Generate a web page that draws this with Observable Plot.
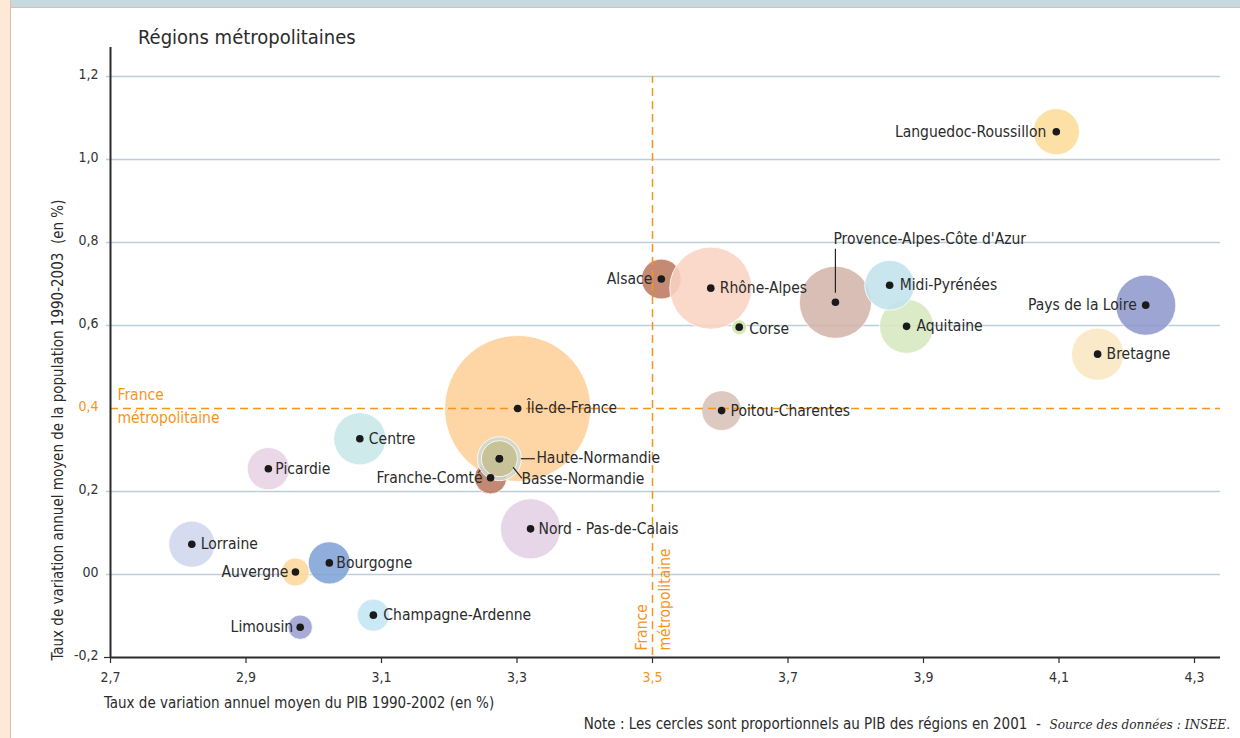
<!DOCTYPE html>
<html><head><meta charset="utf-8">
<script src="https://cdn.jsdelivr.net/npm/d3@7"></script>
<script src="https://cdn.jsdelivr.net/npm/@observablehq/plot@0.6"></script>
<style>
body{margin:0;background:#fff;width:1240px;height:738px;overflow:hidden;position:relative;font-family:"DejaVu Sans Condensed","DejaVu Sans",sans-serif;font-stretch:condensed;color:#2b2b2b}
#strip{position:absolute;left:0;top:0;width:10px;height:738px;background:#fde9d6;border-right:1px solid #e2b9ac}
#bar{position:absolute;left:11px;top:0;right:0;height:7px;background:#c8d8df;border-bottom:1px solid #e6b8ae}
#title{position:absolute;left:138px;top:25px;font-size:20px;white-space:nowrap}
#chart{position:absolute;left:0;top:0}
#xtitle{position:absolute;left:104px;top:694px;font-size:15px;white-space:nowrap}
#note{position:absolute;right:10px;top:715px;font-size:15px;white-space:nowrap}
#note i{font-family:"DejaVu Serif",serif;font-size:13.5px}
</style></head>
<body>
<div id="strip"></div><div id="bar"></div>
<div id="title">Régions métropolitaines</div>
<div id="chart"></div>
<div id="xtitle">Taux de variation annuel moyen du PIB 1990-2002 (en %)</div>
<div id="note">Note : Les cercles sont proportionnels au PIB des régions en 2001 &nbsp;- &nbsp;<i>Source des données : INSEE.</i></div>
<script>
// ---- data ----
const regions = ["Île-de-France","Alsace","Rhône-Alpes","Corse","Provence-Alpes-Côte d'Azur","Aquitaine","Midi-Pyrénées","Languedoc-Roussillon","Bretagne","Pays de la Loire","Poitou-Charentes","Centre","Picardie","Franche-Comté","Haute-Normandie","Basse-Normandie","Nord - Pas-de-Calais","Lorraine","Auvergne","Bourgogne","Champagne-Ardenne","Limousin"];
const gdpGrowth = [3.301,3.513,3.586,3.628,3.770,3.875,3.850,4.096,4.157,4.228,3.602,3.068,2.933,3.261,3.274,3.274,3.320,2.820,2.973,3.023,3.088,2.980];
const popGrowth = [0.400,0.712,0.690,0.596,0.656,0.598,0.697,1.067,0.531,0.649,0.395,0.327,0.255,0.233,0.279,0.279,0.110,0.073,0.006,0.028,-0.098,-0.127];
const gdp2001 = [430,32,136,4.5,105,59,50,43,55,73,32,55,36,21,39,26,73,43,16,36,21,12];
const regionColors = ["#fecf99","#bd7a60","#f9d3c3","#cfe4aa","#d3b5ab","#d7e8bf","#c2e3ed","#fddc98","#fbe7c2","#8f99cc","#dac2b7","#c8e7e7","#e7d1e5","#b97a62","#cfd9d0","#c6be92","#e4d0e5","#cfd7ed","#fdd79c","#7fa3d6","#c3e5f5","#9c9fd0"];
const yTicks = [-0.2,0,0.2,0.4,0.6,0.8,1.0,1.2];
const yTickLabels = ["-0,2","00","0,2","0,4","0,6","0,8","1,0","1,2"];
const xTicks = [2.7,2.9,3.1,3.3,3.5,3.7,3.9,4.1,4.3];
const xTickLabels = ["2,7","2,9","3,1","3,3","3,5","3,7","3,9","4,1","4,3"];
const franceGdpGrowth = 3.5;
const francePopGrowth = 0.4;
const franceLabel = "France\nmétropolitaine";

// ---- label placement (style) ----
const labelPlacement = {
  "Île-de-France":["start",9,0],
  "Alsace":["end",-9,0],
  "Rhône-Alpes":["start",9,0],
  "Corse":["start",10,2],
  "Provence-Alpes-Côte d'Azur":["start",-2,-63],
  "Aquitaine":["start",10,0],
  "Midi-Pyrénées":["start",10,0],
  "Languedoc-Roussillon":["end",-10,0],
  "Bretagne":["start",9,0],
  "Pays de la Loire":["end",-9,0],
  "Poitou-Charentes":["start",9,0],
  "Centre":["start",9,0],
  "Picardie":["start",7,0],
  "Franche-Comté":["end",-8,0],
  "Haute-Normandie":["start",37,-1],
  "Basse-Normandie":["start",22,20],
  "Nord - Pas-de-Calais":["start",8,0],
  "Lorraine":["start",9,0],
  "Auvergne":["end",-7,0],
  "Bourgogne":["start",7,0],
  "Champagne-Ardenne":["start",10,0],
  "Limousin":["end",-7,0]
};

const data = regions.map((name,i)=>({name, x:gdpGrowth[i], y:popGrowth[i], gdp:gdp2001[i], color:regionColors[i]}));
const orange = "#f7941d";
const ink = "#2b2b2b";
const byName = n => data.filter(d=>d.name===n);
const line = {draw(context,l){context.moveTo(0,0);context.lineTo(0,-l);}};

const labelMarks = data.map(d=>{
  const [anchor,dx,dy] = labelPlacement[d.name];
  return Plot.text([d],{x:"x",y:"y",text:"name",textAnchor:anchor,dx,dy,fill:ink,fontSize:15.5});
});

const chart = Plot.plot({
  width:1240, height:738,
  marginLeft:110, marginRight:20, marginTop:47, marginBottom:81,
  x:{domain:[2.7,4.3], range:[110,1194], axis:null},
  y:{domain:[-0.2,1.2], range:[657,76], axis:null},
  r:{type:"sqrt", domain:[0,430], range:[0,73]},
  color:{type:"identity"},
  style:{fontFamily:'"DejaVu Sans Condensed","DejaVu Sans",sans-serif', fontSize:"13px", background:"transparent", overflow:"visible"},
  marks:[
    Plot.ruleY(yTicks.filter(t=>t!==francePopGrowth && t!==-0.2),{y:d=>d, stroke:"#bccfd9", strokeWidth:1.5, insetLeft:-4}),
    Plot.dot(data,{x:"x",y:"y",r:"gdp",fill:"color",fillOpacity:0.88,stroke:"#fff",strokeOpacity:0.8,strokeWidth:1,sort:null}),
    Plot.ruleY([francePopGrowth],{y:d=>d, stroke:orange, strokeWidth:1.5, strokeDasharray:"8,5"}),
    Plot.ruleX([franceGdpGrowth],{x:d=>d, y1:-0.2, y2:1.2, insetTop:-2, stroke:orange, strokeWidth:1.5, strokeDasharray:"8,5"}),
    // axes
    Plot.ruleX([2.7],{x:d=>d, stroke:"#2b2b2b", strokeWidth:2}),
    Plot.ruleY([-0.2],{y:d=>d, stroke:"#2b2b2b", strokeWidth:2}),
    Plot.ruleX(xTicks,{x:d=>d, y1:-0.2, y2:-0.2, insetBottom:-6, stroke:"#2b2b2b", strokeWidth:1.2}),
    Plot.ruleY([-0.2],{y:d=>d, x1:2.7, x2:2.7, insetLeft:-6, stroke:"#2b2b2b", strokeWidth:1.2}),
    Plot.text(xTicks.filter(t=>t!==franceGdpGrowth),{x:d=>d, y:-0.2, dy:20, text:d=>xTickLabels[xTicks.indexOf(d)], fill:"#333", fontSize:14}),
    Plot.text([franceGdpGrowth],{x:d=>d, y:-0.2, dy:20, text:d=>xTickLabels[xTicks.indexOf(d)], fill:orange, fontSize:14}),
    Plot.text(yTicks.filter(t=>t!==francePopGrowth),{x:2.7, y:d=>d, dx:-12, dy:-2, textAnchor:"end", text:d=>yTickLabels[yTicks.indexOf(d)], fill:"#333", fontSize:14}),
    Plot.text([francePopGrowth],{x:2.7, y:d=>d, dx:-12, dy:-2, textAnchor:"end", text:d=>yTickLabels[yTicks.indexOf(d)], fill:orange, fontSize:14}),
    // France labels
    Plot.text([franceLabel],{x:2.7, y:francePopGrowth, text:d=>d, textAnchor:"start", dx:7, dy:-4, lineHeight:1.45, fill:orange, fontSize:15.5}),
    Plot.text([franceLabel],{x:franceGdpGrowth, y:-0.2, text:d=>d, textAnchor:"start", rotate:-90, dy:-7, dx:-1, lineHeight:1.45, fill:orange, fontSize:15.5}),
    // y title
    Plot.text(["Taux de variation annuel moyen de la population 1990-2003\u00a0\u00a0(en %)"],{x:2.7, y:-0.2, text:d=>d, rotate:-90, textAnchor:"start", dx:-52, dy:3, fill:ink, fontSize:15}),
    // leaders
    Plot.ruleX(byName("Provence-Alpes-Côte d'Azur"),{x:"x", y1:"y", y2:"y", insetTop:-53, insetBottom:9, stroke:"#222", strokeWidth:1.2}),
    Plot.ruleY(byName("Haute-Normandie"),{y:"y", x1:"x", x2:"x", insetLeft:22, insetRight:-36, stroke:"#222", strokeWidth:1.2}),
    Plot.vector(byName("Basse-Normandie"),{x:"x", y:"y", dx:14, dy:9, rotate:141, length:13, anchor:"start", shape:line, stroke:"#222", strokeWidth:1.2}),
    // centres
    Plot.dot(data,{x:"x",y:"y",r:3.8,fill:"#1a1a1a"}),
    ...labelMarks
  ]
});
document.getElementById("chart").appendChild(chart);
</script>
</body></html>
